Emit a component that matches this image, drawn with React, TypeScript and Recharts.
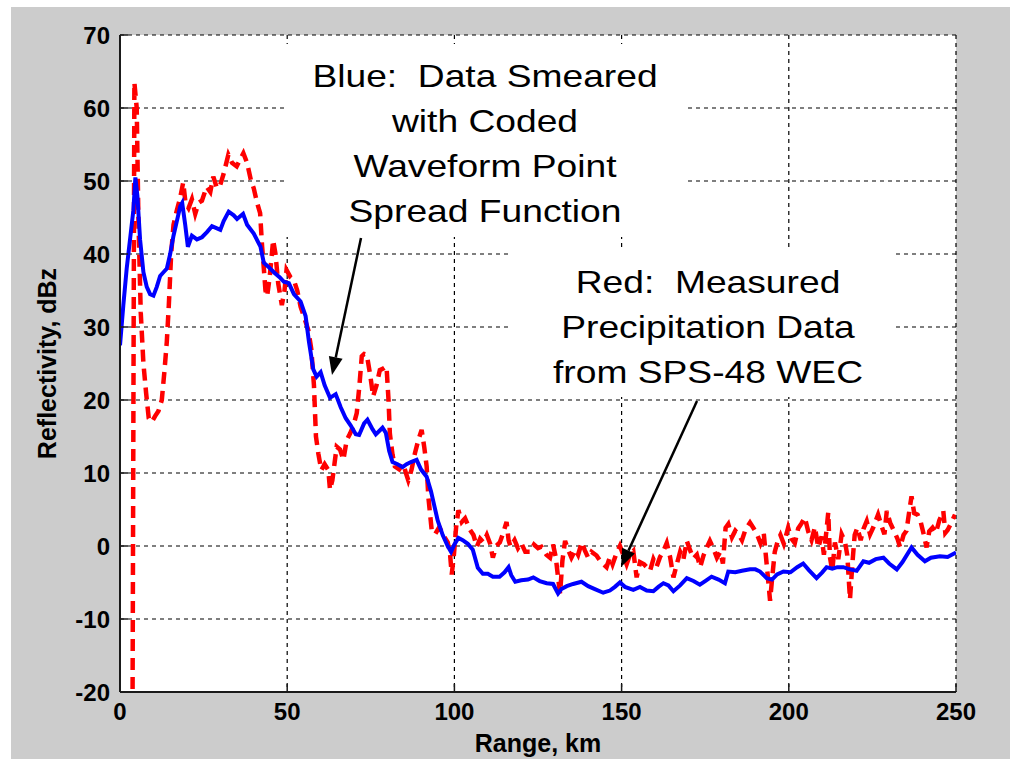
import { LineChart, Line, XAxis, YAxis, CartesianGrid } from "recharts";

const rangeTicks = [0, 50, 100, 150, 200, 250];
const dbzTicks = [-20, -10, 0, 10, 20, 30, 40, 50, 60, 70];

// blue: data smeared with coded waveform PSF
const blueRange = [
  0, 1, 2, 3, 4, 4.6, 5.2, 6, 7, 8, 9, 10, 11, 12, 13, 14, 15, 16, 17, 18, 18.6, 19.5, 20.3, 21.5, 23,
  24.5, 26, 27.5, 29, 30, 31, 32.5, 34, 35, 36.8, 38, 40, 42, 43, 44.5, 46, 47.8, 49, 50.5, 52, 54,
  55.5, 56.5, 57.8, 58.8, 60, 61.2, 62.8, 64.5, 66, 67.5, 69, 70.5, 71.5, 73, 74, 75.5, 76.5, 78.5,
  79.5, 80.5, 81.5, 83, 84.5, 85.7, 87, 88.7, 90, 91.7, 93, 94, 95, 96.5, 98, 99, 100, 101.2, 102.5,
  104, 105.5, 107, 108.5, 110, 111.5, 113.5, 115, 116.2, 117, 118.2, 120, 122, 123.6, 125.5, 127.6,
  129.5, 131, 132, 133.6, 135.5, 138, 140, 142, 144.5, 146.5, 148, 149.5, 151, 153.5, 155.5, 157.5,
  159.5, 161, 162.5, 164, 165.5, 167.5, 169.5, 171.5, 173.4, 175, 176.9, 179, 180.9, 181.9, 184, 186,
  188.4, 190, 191.4, 193.4, 195, 196.5, 198.4, 200.5, 202.5, 204.3, 206, 208.3, 210, 211.3, 213,
  214.5, 216.3, 218.3, 220.3, 222.3, 224, 226, 228.3, 230, 232.3, 234, 236.7, 238.5, 240.7, 242.5,
  245.2, 247.5, 250,
];
const blueDbz = [
  27.5, 33, 38, 42, 46, 50.5, 48, 42, 37.5, 35.5, 34.5, 34.3, 35.5, 37, 37.5, 38, 40, 42.5, 44.5, 46.5,
  47, 44, 41, 42.5, 42, 42.3, 43, 43.8, 43.5, 43.3, 44.5, 45.8, 45.3, 44.8, 45.5, 44, 42.8, 41, 38.8,
  38.2, 37.5, 36.8, 36.2, 36, 34.5, 33.5, 31.5, 28, 24.2, 23.2, 23.8, 22, 20.3, 20.8, 19, 17.5, 16.5,
  15.3, 15.2, 16.8, 17.3, 16, 15.3, 16.2, 15.5, 13, 11.5, 11.2, 10.8, 11.2, 11.5, 11.8, 10.5, 9.5, 7.5,
  5.5, 3.5, 1.5, 0, -0.8, 0.2, 1.1, 0.8, 0.3, -0.5, -3, -3.8, -3.8, -4.2, -4.2, -3.6, -2.9, -4, -4.9,
  -4.7, -4.6, -4.3, -4.8, -5.1, -5.2, -6.5, -5.9, -5.5, -5.2, -4.9, -5.5, -5.9, -6.4, -6.1, -5.6, -5,
  -5.6, -6, -5.6, -6.1, -6.2, -5.6, -5.1, -5.4, -6.2, -5.4, -4.4, -4.8, -5.3, -4.8, -4.2, -4.6, -5.1,
  -3.5, -3.6, -3.4, -3.2, -3.2, -3.5, -4.4, -4.6, -3.9, -3.5, -3.6, -2.9, -2.4, -3.3, -4.4, -3.6, -2.9,
  -3.1, -2.9, -2.9, -3.2, -3.4, -2.1, -2.3, -1.8, -1.6, -2.4, -3.2, -2.2, -0.2, -1.2, -2.1, -1.6, -1.4,
  -1.5, -0.9,
];

// red: measured precipitation data from SPS-48 WEC
const redRange = [
  3.7, 4.3, 5, 5.5, 6.2, 7, 7.8, 8.6, 9.5, 10.5, 11.5, 12.5, 13.3, 14, 14.6, 15.3, 16, 17, 17.9, 18.9,
  19.6, 20.5, 21.5, 22.5, 23.5, 24.5, 25.9, 27, 27.9, 29, 30, 31, 32.4, 33.5, 34.9, 36, 36.9, 38, 39.2,
  40, 41, 41.9, 42.5, 42.9, 43.5, 44, 44.8, 45.8, 46.5, 47.3, 48.4, 49.2, 49.8, 51, 52, 53, 54, 55.3,
  56.3, 57.2, 58, 58.6, 59.3, 60.2, 61.2, 62.3, 62.8, 63.5, 64.8, 65.8, 66.8, 67.8, 68.8, 69.8, 70.8,
  71.6, 72.3, 73, 73.8, 74.8, 75.7, 76.7, 77.7, 78.7, 79.7, 80.3, 80.7, 81.5, 82.2, 83.5, 84.7, 85.5,
  86.2, 87.2, 88.2, 89.2, 90.2, 91, 91.7, 92.2, 93.2, 94.2, 95.5, 96.8, 98, 98.7, 99.2, 99.8, 100.5,
  101.2, 102.2, 103.2, 104.7, 105.7, 106.7, 107.7, 108.7, 109.7, 110.7, 111.5, 112.5, 113.6, 114.6,
  115.6, 116.2, 116.8, 118, 119, 120, 121.2, 122.6, 123.8, 125, 126, 127.5, 128.6, 129.5, 130.3,
  131.1, 131.6, 132.3, 133.1, 134, 135, 136.2, 137, 138.1, 139, 140, 141, 142.5, 143.8, 145.5, 146.5,
  147.3, 148.3, 149.5, 150.3, 151.5, 152.5, 153.5, 154.5, 155.5, 156.7, 157.7, 158.5, 159.5, 160.5,
  161.5, 162.5, 163.5, 164.5, 165.5, 166.5, 167.5, 168.5, 169.5, 170.5, 171.5, 172.5, 173.5, 174.5,
  175.5, 176.4, 177.5, 178.5, 179.5, 180.3, 181.1, 181.9, 183, 184, 185, 186, 187, 188.4, 189.5,
  190.5, 191.5, 192.5, 193.3, 194, 194.4, 195, 195.8, 196.7, 197.5, 198.5, 199.8, 200.8, 201.8, 202.8,
  203.8, 204.8, 205.8, 206.8, 207.8, 208.8, 209.8, 210.5, 211.3, 211.8, 212.3, 213, 213.8, 214.8,
  215.8, 216.8, 217.5, 218.3, 219, 219.7, 220.5, 221.5, 222.3, 223.3, 224.3, 225.3, 226.7, 227.7,
  228.6, 229.3, 230.3, 231.3, 232.5, 233.3, 234.3, 235.2, 236.2, 236.7, 237.5, 238.5, 239.5, 240.5,
  241.2, 242, 243, 244, 245, 246.2, 246.8, 247.5, 248.5, 249.7,
];
const redDbz = [
  -30, 63.5, 60, 45, 32, 25, 21, 17.5, 17, 17.8, 18.5, 20, 24, 28, 33, 40, 44, 46, 47.5, 49.8, 47,
  46.3, 47.5, 45.5, 47, 47.3, 49.2, 48.5, 50.6, 49, 49.5, 51, 53.6, 52.5, 52, 53, 53.8, 52.5, 50, 49,
  47, 45.6, 41, 38.7, 35, 34.2, 37, 41.9, 40, 36, 33, 35, 37.8, 36.8, 36.4, 35, 32.8, 31, 29.6, 27, 22,
  15, 12.7, 10.4, 11.2, 10.4, 7.7, 9, 13.6, 13.2, 11.8, 14.5, 15.4, 16.5, 18.2, 22, 26, 26.3, 26.2,
  23.5, 20.5, 22, 24.1, 24.3, 24.6, 20, 15.4, 12.5, 10.9, 10.5, 11.3, 10, 9, 10.5, 12.7, 14.5, 15.9,
  13.5, 10.9, 6.8, 2.2, 1.6, 2.6, 1.4, 0.5, -1.1, -3.9, -1.5, 2.5, 4.9, 3.3, 3.8, 2.2, 1.5, -0.1, 1,
  0.5, 1.5, 0.3, -1.6, 0, 0.5, 1.8, 3.3, 0.8, -0.1, 0.8, -0.3, 0.4, -0.8, -0.8, 0.2, -0.3, -0.1, -1.2,
  -1.6, 0.2, -1.5, -4.7, -6.5, -2, 0.7, -0.5, -1.6, -0.5, -1.2, 0.5, -0.6, -1.6, -0.8, -1.3, -2.2,
  -2.9, -1.5, -2.5, -1.2, 0, -1, -2.5, -1.2, -0.7, -4.3, -2.2, -2.5, -3, -3.4, -1.8, -2.8, -1.5, -0.7,
  0.4, -1.5, -4.3, -2.5, -0.8, -1.8, 0.7, -0.6, -1.7, -1.2, -2.9, -1.3, -0.2, 0.7, -0.4, -1.6, -0.8,
  -2.4, 2.5, 3, 1.2, 2.1, 1.6, 0.8, 2.2, 3.2, 2.4, 1.6, 0.4, 1.8, -2.1, -5.5, -7.5, -4.5, -0.8, 0.7,
  1.5, 0.3, 2.5, 1, 0.4, 2.4, 3.1, 3.9, 2, 0.8, 2.6, -0.2, 1.3, -1.2, 2.3, 4.6, -1.5, -3.4, 0.5, -1.8,
  1.6, 0.6, -1.3, -7.3, -2.5, 1.5, 2.5, 0.8, 2.3, 3.4, 1.6, 2.6, 4.3, 2.8, 1.6, 4.8, 3.2, 2.2, 1,
  -0.2, 1.5, 2.1, 5.3, 6.8, 4.5, 4.3, 3.2, 1.3, -0.2, 2, 2.5, 1.8, 3.5, 4.8, 1.8, 2.2, 3.1, 4.3,
];

const blueData = blueRange.map((x, i) => ({ x, y: blueDbz[i] }));
const redData = redRange.map((x, i) => ({ x, y: redDbz[i] }));

const font = "'Liberation Sans', Arial, sans-serif";
const axisColor = "#1a1a1a";
const tickStyle = { fill: "#000", fontSize: 24, fontWeight: 700, fontFamily: font };
const titleStyle = { fontSize: 25, fontWeight: 700, fontFamily: font, fill: "#000" };

function YTitle({ viewBox }: any) {
  const cx = viewBox.x + 47;
  const cy = viewBox.y + viewBox.height / 2;
  return (
    <text
      x={cx}
      y={cy}
      transform={`rotate(-90 ${cx} ${cy})`}
      textAnchor="middle"
      dominantBaseline="central"
      style={titleStyle}
    >
      Reflectivity, dBz
    </text>
  );
}

function Note({ cx, lines, baseline }: { cx: number; lines: string[]; baseline: number }) {
  return (
    <g transform={`translate(${cx} 0) scale(1.2 1)`}>
      {lines.map((t, i) => (
        <text
          key={t}
          x={0}
          y={baseline + i * 45}
          textAnchor="middle"
          style={{ fontSize: 31, fontFamily: font, fill: "#000", whiteSpace: "pre" }}
        >
          {t}
        </text>
      ))}
    </g>
  );
}

function Arrow({ x1, y1, x2, y2 }: { x1: number; y1: number; x2: number; y2: number }) {
  const a = Math.atan2(y2 - y1, x2 - x1);
  const len = 18;
  const half = 7;
  const bx = x2 - len * Math.cos(a);
  const by = y2 - len * Math.sin(a);
  const px = -Math.sin(a) * half;
  const py = Math.cos(a) * half;
  return (
    <g>
      <line x1={x1} y1={y1} x2={bx} y2={by} stroke="#000" strokeWidth={2.5} />
      <polygon points={`${x2},${y2} ${bx + px},${by + py} ${bx - px},${by - py}`} fill="#000" />
    </g>
  );
}

export default function App() {
  return (
    <div style={{ position: "absolute", left: 0, top: 0, width: 1010, height: 759, background: "#fff", overflow: "hidden" }}>
      <div style={{ position: "absolute", left: 11, top: 7, right: 0, bottom: 0, background: "#cccccc" }} />
      <div style={{ position: "absolute", left: 0, top: 0 }}>
        <LineChart width={1010} height={759} margin={{ top: 35, right: 54, bottom: 0, left: 0 }}>
          <CartesianGrid fill="#fff" stroke="#000" strokeDasharray="4 4" strokeWidth={1.2} />
          <XAxis
            dataKey="x"
            type="number"
            domain={[0, 250]}
            ticks={rangeTicks}
            allowDataOverflow
            height={67}
            tickSize={-8}
            tickMargin={19}
            tick={tickStyle}
            axisLine={{ stroke: axisColor, strokeWidth: 2 }}
            tickLine={{ stroke: axisColor, strokeWidth: 1.5 }}
            label={{ value: "Range, km", position: "insideBottom", offset: 7, style: titleStyle }}
          />
          <XAxis
            xAxisId="top"
            orientation="top"
            dataKey="x"
            type="number"
            domain={[0, 250]}
            ticks={rangeTicks}
            height={0}
            tickSize={-8}
            tick={false}
            axisLine={{ stroke: axisColor, strokeWidth: 2 }}
            tickLine={{ stroke: axisColor, strokeWidth: 1.5 }}
          />
          <YAxis
            type="number"
            domain={[-20, 70]}
            ticks={dbzTicks}
            allowDataOverflow
            width={120}
            tickSize={-8}
            tickMargin={18}
            tick={tickStyle}
            axisLine={{ stroke: axisColor, strokeWidth: 2 }}
            tickLine={{ stroke: axisColor, strokeWidth: 1.5 }}
            label={<YTitle />}
          />
          <YAxis
            yAxisId="right"
            orientation="right"
            type="number"
            domain={[-20, 70]}
            ticks={dbzTicks}
            width={0}
            tickSize={-8}
            tick={false}
            axisLine={{ stroke: axisColor, strokeWidth: 2 }}
            tickLine={{ stroke: axisColor, strokeWidth: 1.5 }}
          />
          <Line
            data={redData}
            dataKey="y"
            type="linear"
            stroke="#ff0000"
            strokeWidth={4.5}
            strokeDasharray="12 7"
            dot={false}
            isAnimationActive={false}
          />
          <Line
            data={blueData}
            dataKey="y"
            type="linear"
            stroke="#0000ff"
            strokeWidth={4}
            dot={false}
            isAnimationActive={false}
          />
        </LineChart>
      </div>
      <svg width={1010} height={759} style={{ position: "absolute", left: 0, top: 0, pointerEvents: "none" }}>
        <rect x={286} y={44} width={401} height={193} fill="#fff" />
        <rect x={510} y={248} width={385} height={149} fill="#fff" />
        <Note cx={485} baseline={87} lines={["Blue:  Data Smeared", "with Coded", "Waveform Point", "Spread Function"]} />
        <Note cx={708} baseline={293} lines={["Red:  Measured", "Precipitation Data", "from SPS-48 WEC"]} />
        <Arrow x1={361} y1={238} x2={332} y2={375} />
        <Arrow x1={697} y1={401} x2={621} y2={567} />
      </svg>
    </div>
  );
}
